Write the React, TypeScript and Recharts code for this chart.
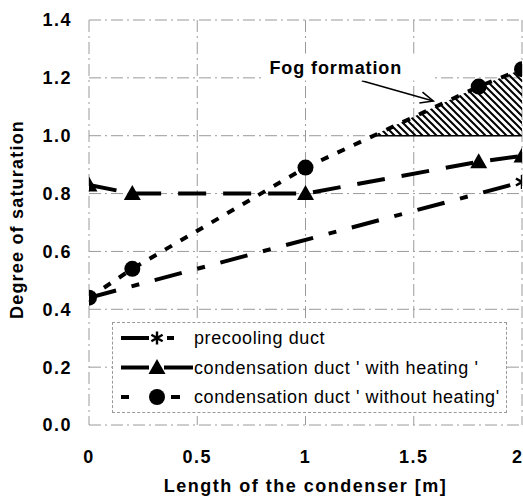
import React from "react";
import {
  ComposedChart,
  Line,
  Area,
  XAxis,
  YAxis,
  CartesianGrid,
  Legend,
  ReferenceLine,
  ReferenceDot,
} from "recharts";

// valeurs (longueur du condenseur en m)
const precoolX = [0, 2];
const precoolY = [0.44, 0.84];
const heatingX = [0, 0.2, 1, 1.8, 2];
const heatingY = [0.83, 0.8, 0.8, 0.91, 0.93];
const noHeatX = [0, 0.2, 1, 1.8, 2];
const noHeatY = [0.44, 0.54, 0.89, 1.17, 1.23];
const fogX = [1.31, 1.8, 2];
const fogY = [1.0, 1.17, 1.23];

const xTicks = [0, 0.5, 1, 1.5, 2];
const yTicks = [0, 0.2, 0.4, 0.6, 0.8, 1.0, 1.2, 1.4];

const zip = (xs: number[], ys: number[]) => xs.map((x, i) => ({ x, y: ys[i] }));
const precool = zip(precoolX, precoolY);
const heating = zip(heatingX, heatingY);
const noHeat = zip(noHeatX, noHeatY);
const fog = zip(fogX, fogY);

const FONT = "'Liberation Sans', Arial, Helvetica, sans-serif";

// marqueurs
const asteriskPath = (cx: number, cy: number, s: number) => {
  const a = s * Math.cos(Math.PI / 6);
  const b = s * Math.sin(Math.PI / 6);
  return `M${cx},${cy - s}L${cx},${cy + s}M${cx - a},${cy - b}L${cx + a},${cy + b}M${cx - a},${cy + b}L${cx + a},${cy - b}`;
};
const trianglePath = (cx: number, cy: number) =>
  `M${cx},${cy - 8.5}L${cx + 8.5},${cy + 6.5}L${cx - 8.5},${cy + 6.5}Z`;

const AsteriskDot = (p: any) => {
  if (p.cx == null || p.cy == null) return <g key={p.index} />;
  return (
    <path key={p.index} d={asteriskPath(p.cx, p.cy, 7)} stroke="#000" strokeWidth={2.4} fill="none" />
  );
};
const TriangleDot = (p: any) => {
  if (p.cx == null || p.cy == null) return <g key={p.index} />;
  return <path key={p.index} d={trianglePath(p.cx, p.cy)} fill="#000" />;
};
const CircleDot = (p: any) => {
  if (p.cx == null || p.cy == null) return <g key={p.index} />;
  return <circle key={p.index} cx={p.cx} cy={p.cy} r={8} fill="#000" />;
};

// flèche de l'annotation
const ArrowShape = (p: any) => {
  const { x1, y1, x2, y2 } = p;
  const ang = Math.atan2(y2 - y1, x2 - x1);
  const len = 14;
  const spread = 0.42;
  const ax = x2 - len * Math.cos(ang - spread);
  const ay = y2 - len * Math.sin(ang - spread);
  const bx = x2 - len * Math.cos(ang + spread);
  const by = y2 - len * Math.sin(ang + spread);
  return (
    <g>
      <line x1={x1} y1={y1} x2={x2} y2={y2} stroke="#000" strokeWidth={1.6} />
      <polyline points={`${ax},${ay} ${x2},${y2} ${bx},${by}`} fill="none" stroke="#000" strokeWidth={1.6} />
    </g>
  );
};

const FogLabel = (p: any) => (
  <g>
    <rect x={p.cx - 73} y={p.cy - 20} width={170} height={27} fill="#fff" />
    <text
      x={p.cx}
      y={p.cy}
      textAnchor="middle"
      fontFamily={FONT}
      fontWeight="bold"
      fontSize={18}
      letterSpacing={0.9}
      fill="#000"
    >
      Fog formation
    </text>
  </g>
);

const legendRows = [
  { label: "precooling duct", kind: "precool" },
  { label: "condensation duct ' with heating '", kind: "heating" },
  { label: "condensation duct ' without heating'", kind: "noHeat" },
];

const LegendBox = () => (
  <div
    style={{
      width: 395,
      height: 91,
      boxSizing: "border-box",
      border: "1px dashed #999",
      background: "#fff",
    }}
  >
    <svg width={393} height={89} style={{ display: "block" }}>
      {legendRows.map((r, i) => {
        const cy = 15 + i * 29.5;
        return (
          <g key={r.kind}>
            {r.kind === "precool" && (
              <g>
                <line x1={8} y1={cy} x2={36} y2={cy} stroke="#000" strokeWidth={4} />
                <path d={asteriskPath(44, cy, 6.5)} stroke="#000" strokeWidth={2.4} fill="none" />
                <line x1={54} y1={cy} x2={61} y2={cy} stroke="#000" strokeWidth={4} />
              </g>
            )}
            {r.kind === "heating" && (
              <g>
                <line x1={8} y1={cy} x2={36} y2={cy} stroke="#000" strokeWidth={4} />
                <path d={trianglePath(44, cy)} fill="#000" />
                <line x1={51} y1={cy} x2={80} y2={cy} stroke="#000" strokeWidth={4} />
              </g>
            )}
            {r.kind === "noHeat" && (
              <g>
                <line x1={8} y1={cy} x2={16} y2={cy} stroke="#000" strokeWidth={4} />
                <circle cx={44} cy={cy} r={8} fill="#000" />
                <line x1={58} y1={cy} x2={67} y2={cy} stroke="#000" strokeWidth={4} />
              </g>
            )}
            <text
              x={81}
              y={cy + 6}
              fontFamily={FONT}
              fontSize={18}
              letterSpacing={0.6}
              fill="#000"
            >
              {r.label}
            </text>
          </g>
        );
      })}
    </svg>
  </div>
);

const tickStyle = {
  fontFamily: FONT,
  fontSize: 18,
  fontWeight: "bold",
  fill: "#000",
  letterSpacing: 1.5,
};

export default function App() {
  return (
    <div style={{ position: "absolute", left: 0, top: 0, background: "#fff" }}>
      <ComposedChart
        width={523}
        height={502}
        margin={{ top: 20, right: 1, bottom: 0, left: 0 }}
      >
        <defs>
          <pattern id="hatch" patternUnits="userSpaceOnUse" width={7} height={7}>
            <path d="M0,0L7,7M-1,6L1,8M6,-1L8,1" stroke="#000" strokeWidth={2} />
          </pattern>
        </defs>
        <CartesianGrid stroke="#9a9a9a" strokeWidth={1} strokeDasharray="12 4 2 4" />
        <XAxis
          type="number"
          dataKey="x"
          domain={[0, 2]}
          ticks={xTicks}
          height={77}
          axisLine={false}
          tickLine={false}
          tickSize={0}
          tickMargin={25}
          tick={tickStyle}
          allowDataOverflow
          label={{
            content: ({ viewBox }: any) => (
              <text
                x={viewBox.x + viewBox.width / 2}
                y={viewBox.y + 67}
                textAnchor="middle"
                fontFamily={FONT}
                fontWeight="bold"
                fontSize={18}
                letterSpacing={1.5}
                fill="#000"
              >
                Length of the condenser [m]
              </text>
            ),
          }}
        />
        <YAxis
          type="number"
          domain={[0, 1.4]}
          ticks={yTicks}
          width={89}
          axisLine={false}
          tickLine={false}
          tickSize={0}
          tickMargin={17}
          tick={tickStyle}
          tickFormatter={(v: number) => v.toFixed(1)}
          allowDataOverflow
          label={{
            content: ({ viewBox }: any) => {
              const cx = 17;
              const cy = viewBox.y + viewBox.height / 2 - 3;
              return (
                <text
                  x={cx}
                  y={cy}
                  transform={`rotate(-90 ${cx} ${cy})`}
                  textAnchor="middle"
                  dominantBaseline="central"
                  fontFamily={FONT}
                  fontWeight="bold"
                  fontSize={18}
                  letterSpacing={1.2}
                  fill="#000"
                >
                  Degree of saturation
                </text>
              );
            },
          }}
        />
        <Area
          data={fog}
          dataKey="y"
          type="linear"
          baseValue={1}
          fill="url(#hatch)"
          fillOpacity={1}
          stroke="none"
          isAnimationActive={false}
        />
        <ReferenceLine
          segment={[
            { x: fogX[0], y: 1 },
            { x: 2, y: 1 },
          ]}
          stroke="#000"
          strokeWidth={1.5}
        />
        <Line
          data={precool}
          dataKey="y"
          type="linear"
          stroke="#000"
          strokeWidth={4}
          strokeDasharray="28 16 8 16"
          dot={AsteriskDot}
          activeDot={false}
          isAnimationActive={false}
        />
        <Line
          data={heating}
          dataKey="y"
          type="linear"
          stroke="#000"
          strokeWidth={4}
          strokeDasharray="28 17"
          dot={TriangleDot}
          activeDot={false}
          isAnimationActive={false}
        />
        <Line
          data={noHeat}
          dataKey="y"
          type="linear"
          stroke="#000"
          strokeWidth={4}
          strokeDasharray="8 10"
          dot={CircleDot}
          activeDot={false}
          isAnimationActive={false}
        />
        <ReferenceLine
          segment={[
            { x: 1.26, y: 1.19 },
            { x: 1.59, y: 1.12 },
          ]}
          shape={ArrowShape}
        />
        <ReferenceDot x={1.14} y={1.215} r={0} shape={FogLabel} />
        <Legend
          layout="horizontal"
          verticalAlign="middle"
          align="center"
          content={() => <LegendBox />}
          wrapperStyle={{ position: "absolute", left: 112, top: 322, width: 395, height: 91 }}
        />
      </ComposedChart>
    </div>
  );
}
